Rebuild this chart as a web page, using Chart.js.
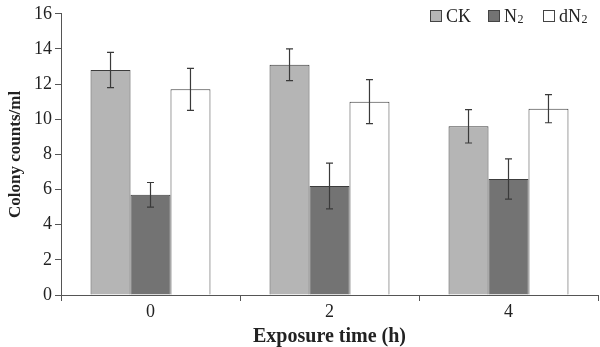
<!DOCTYPE html>
<html><head><meta charset="utf-8">
<script src="https://cdn.jsdelivr.net/npm/chart.js@4"></script>
<style>html,body{margin:0;padding:0;background:#fff}#w{width:600px;height:347px}</style>
</head><body><div id="w"><canvas id="c"></canvas></div>
<script>
const categories = ['0', '2', '4'];
const seriesNames = ['CK', 'N2', 'dN2'];
const ckValues = [12.8, 13.1, 9.6];
const n2Values = [5.7, 6.2, 6.6];
const dn2Values = [11.7, 11.0, 10.6];
const ckErrors = [1.0, 0.9, 0.95];
const n2Errors = [0.7, 1.3, 1.15];
const dn2Errors = [1.2, 1.25, 0.8];
const yTicks = [0, 2, 4, 6, 8, 10, 12, 14, 16];

const SERIF = '"Liberation Serif","DejaVu Serif",serif';

const errorBars = {
  id: 'errorBars',
  afterDatasetsDraw(chart) {
    const ctx = chart.ctx, y = chart.scales.y;
    ctx.save();
    ctx.strokeStyle = '#3a3a3a';
    ctx.lineWidth = 1.2;
    chart.data.datasets.forEach((ds, i) => {
      const meta = chart.getDatasetMeta(i);
      meta.data.forEach((bar, j) => {
        const v = ds.data[j], e = ds.errors[j];
        const x = bar.x, yt = y.getPixelForValue(v + e), yb = y.getPixelForValue(v - e);
        ctx.beginPath();
        ctx.moveTo(x, yt); ctx.lineTo(x, yb);
        ctx.moveTo(x - 3.5, yt); ctx.lineTo(x + 3.5, yt);
        ctx.moveTo(x - 3.5, yb); ctx.lineTo(x + 3.5, yb);
        ctx.stroke();
      });
    });
    ctx.restore();
  }
};

const customLegend = {
  id: 'customLegend',
  afterDraw(chart) {
    const ctx = chart.ctx;
    const starts = [430, 488, 543];
    ctx.save();
    chart.data.datasets.forEach((ds, i) => {
      const x = starts[i], yTop = 10;
      ctx.fillStyle = ds.backgroundColor;
      ctx.strokeStyle = '#444';
      ctx.lineWidth = 1;
      ctx.fillRect(x + 0.5, yTop + 0.5, 11, 11);
      ctx.strokeRect(x + 0.5, yTop + 0.5, 11, 11);
      ctx.fillStyle = '#222';
      ctx.textBaseline = 'alphabetic';
      ctx.textAlign = 'left';
      const name = ds.label;
      const m = name.match(/^(.*?)(\d+)$/);
      let tx = x + 16;
      const base = 22;
      if (m) {
        ctx.font = '18px ' + SERIF;
        ctx.fillText(m[1], tx, base);
        tx += ctx.measureText(m[1]).width;
        ctx.font = '12px ' + SERIF;
        ctx.fillText(m[2], tx + 0.5, base + 1);
      } else {
        ctx.font = '18px ' + SERIF;
        ctx.fillText(name, tx, base);
      }
    });
    ctx.restore();
  }
};

new Chart(document.getElementById('c'), {
  type: 'bar',
  data: {
    labels: categories,
    datasets: [
      { label: seriesNames[0], data: ckValues, errors: ckErrors, backgroundColor: '#b5b5b5', borderColor: '#3c3c3c', borderWidth: 1 },
      { label: seriesNames[1], data: n2Values, errors: n2Errors, backgroundColor: '#737373', borderColor: '#3c3c3c', borderWidth: 1 },
      { label: seriesNames[2], data: dn2Values, errors: dn2Errors, backgroundColor: '#ffffff', borderColor: '#3c3c3c', borderWidth: 1 }
    ]
  },
  options: {
    responsive: true,
    maintainAspectRatio: false,
    animation: false,
    devicePixelRatio: 1,
    layout: { padding: { top: 7, right: 2, left: 7, bottom: 0 } },
    datasets: { bar: { barPercentage: 1.0, categoryPercentage: 0.67 } },
    plugins: { legend: { display: false }, tooltip: { enabled: false } },
    scales: {
      x: {
        grid: { offset: true, drawOnChartArea: false, tickLength: 6, color: '#555' },
        border: { color: '#555', width: 1 },
        ticks: { color: '#222', font: { family: SERIF, size: 18, lineHeight: 1.0 }, padding: 2 },
        title: { display: true, text: 'Exposure time (h)', color: '#222', font: { family: SERIF, size: 20, weight: 'bold', lineHeight: 1.0 }, padding: { top: 4, bottom: 0 } }
      },
      y: {
        min: 0, max: 16,
        afterBuildTicks(axis) { axis.ticks = yTicks.map(v => ({ value: v })); },
        grid: { drawOnChartArea: false, tickLength: 6, color: '#555' },
        border: { color: '#555', width: 1 },
        ticks: { color: '#222', font: { family: SERIF, size: 18 }, padding: 3 },
        title: { display: true, text: 'Colony counts/ml', color: '#222', font: { family: SERIF, size: 17, weight: 'bold', lineHeight: 1.0 }, padding: { top: 0, bottom: 7 } }
      }
    }
  },
  plugins: [errorBars, customLegend]
});
</script>
</body></html>
